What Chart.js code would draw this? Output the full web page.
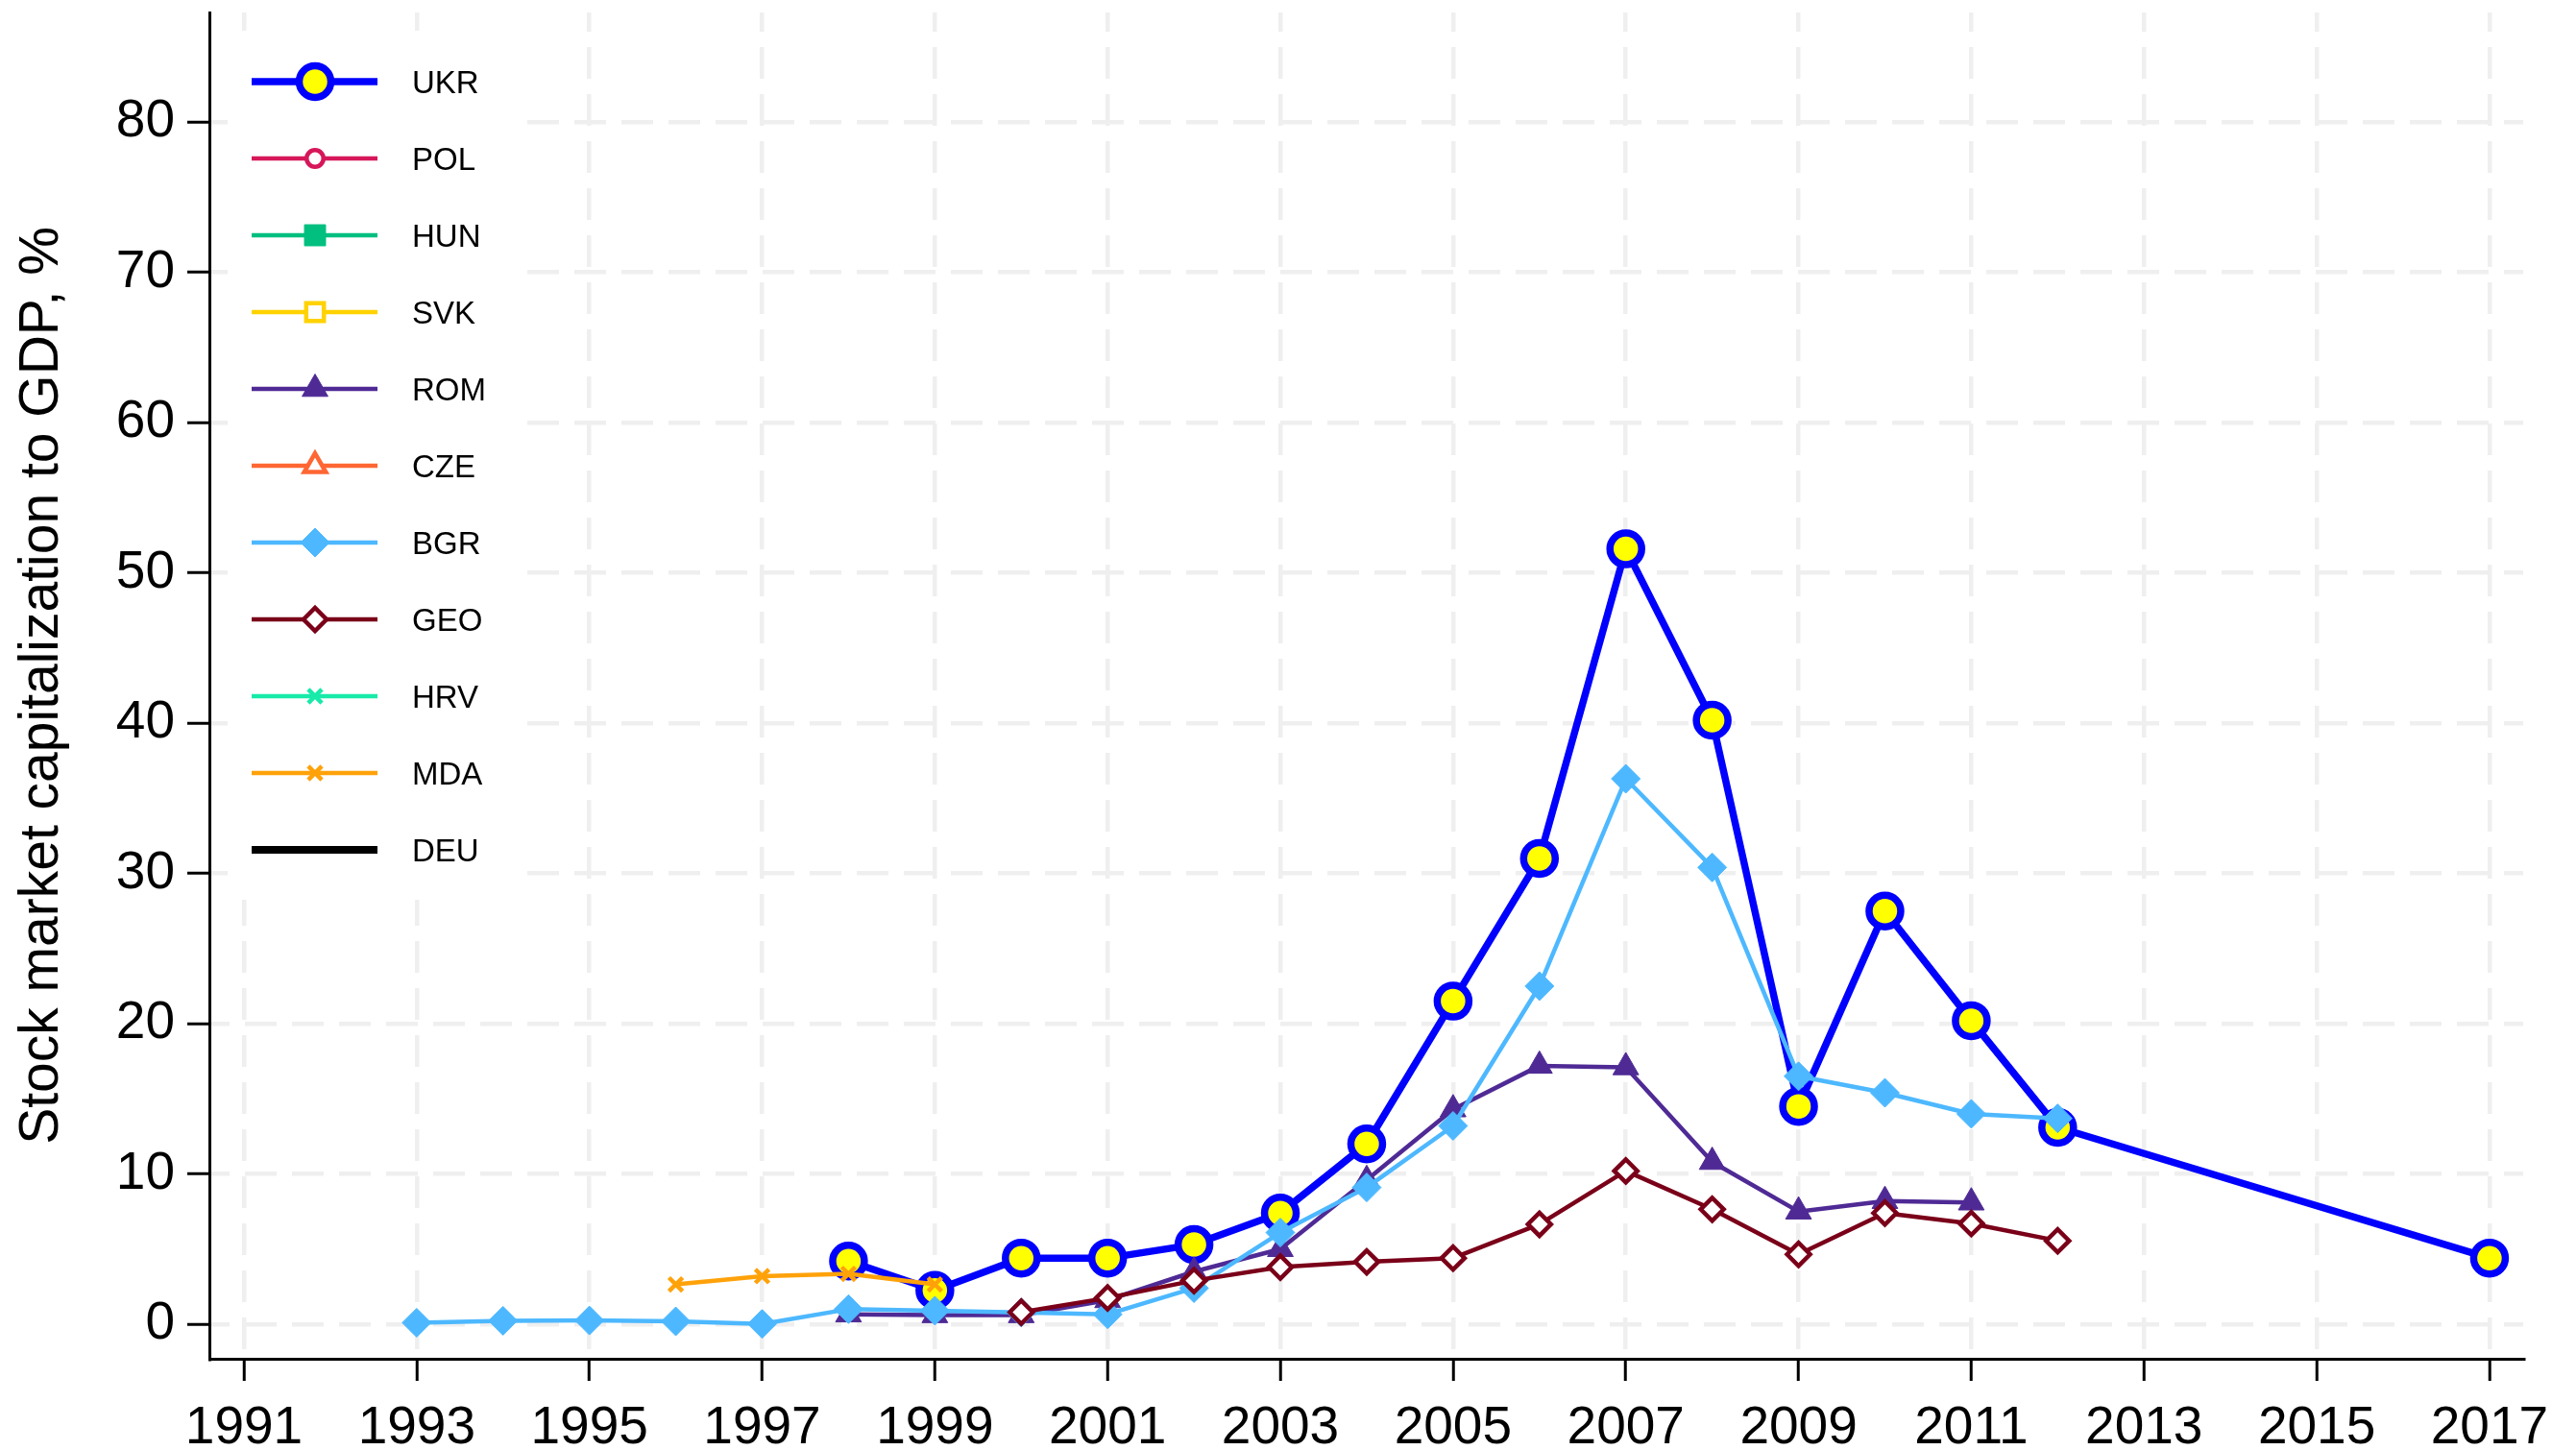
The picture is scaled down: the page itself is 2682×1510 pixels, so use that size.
<!DOCTYPE html>
<html>
<head>
<meta charset="utf-8">
<script src="https://cdn.jsdelivr.net/npm/chart.js@4.4.1/dist/chart.umd.min.js"></script>
<style>
html,body{margin:0;padding:0;background:#ffffff;}
canvas{display:block;}
</style>
</head>
<body>
<canvas id="c" width="2682" height="1510"></canvas>
<script>
// ---------- DATA ----------
const seriesNames = ['UKR','POL','HUN','SVK','ROM','CZE','BGR','GEO','HRV','MDA','DEU'];

const ukrYears  = [1998,1999,2000,2001,2002,2003,2004,2005,2006,2007,2008,2009,2010,2011,2012,2017];
const ukrValues = [4.2,2.25,4.4,4.4,5.3,7.4,12.0,21.5,31.0,51.6,40.2,14.5,27.5,20.2,13.1,4.4];

const polYears = [];  const polValues = [];
const hunYears = [];  const hunValues = [];
const svkYears = [];  const svkValues = [];

const romYears  = [1998,1999,2000,2001,2002,2003,2004,2005,2006,2007,2008,2009,2010,2011];
const romValues = [0.65,0.6,0.6,1.6,3.5,5.0,9.6,14.3,17.2,17.1,10.8,7.5,8.2,8.1];

const czeYears = [];  const czeValues = [];

const bgrYears  = [1993,1994,1995,1996,1997,1998,1999,2000,2001,2002,2003,2004,2005,2006,2007,2008,2009,2010,2011,2012];
const bgrValues = [0.1,0.23,0.25,0.19,0.02,1.0,0.9,0.78,0.66,2.4,6.1,9.1,13.2,22.5,36.3,30.4,16.5,15.4,14.0,13.7];

const geoYears  = [2000,2001,2002,2003,2004,2005,2006,2007,2008,2009,2010,2011,2012];
const geoValues = [0.8,1.75,2.9,3.8,4.15,4.4,6.65,10.2,7.65,4.65,7.4,6.7,5.55];

const hrvYears = [];  const hrvValues = [];

const mdaYears  = [1996,1997,1998,1999];
const mdaValues = [2.65,3.2,3.35,2.65];

const deuYears = [];  const deuValues = [];

const xTickYears  = [1991,1993,1995,1997,1999,2001,2003,2005,2007,2009,2011,2013,2015,2017];
const yTickValues = [0,10,20,30,40,50,60,70,80];
const yAxisTitle  = 'Stock market capitalization to GDP, %';

// ---------- STYLES ----------
const FONT = '"Liberation Sans", Arial, Helvetica, sans-serif';
const styles = {
  UKR: {line:'#0000ff', lw:7.5, ps:'circle',   r:16.5, bw:7.5, bg:'#ffff00', bc:'#0000ff'},
  POL: {line:'#d6175a', lw:4.5, ps:'circle',   r:8.75, bw:4.5, bg:'#ffffff', bc:'#d6175a'},
  HUN: {line:'#00bf7f', lw:4.5, ps:'rect',     r:15.5, bw:1,   bg:'#00bf7f', bc:'#00bf7f'},
  SVK: {line:'#ffd200', lw:4.5, ps:'rect',     r:13,   bw:4.5, bg:'#ffffff', bc:'#ffd200'},
  ROM: {line:'#4f2a95', lw:4.5, ps:'triangle', r:15.5, bw:1,   bg:'#4f2a95', bc:'#4f2a95'},
  CZE: {line:'#ff6633', lw:4.5, ps:'triangle', r:13,   bw:4.5, bg:'#ffffff', bc:'#ff6633'},
  BGR: {line:'#4db8ff', lw:4.5, ps:'rectRot',  r:15,   bw:1,   bg:'#4db8ff', bc:'#4db8ff'},
  GEO: {line:'#7a0019', lw:4.5, ps:'rectRot',  r:12,   bw:4.5, bg:'#ffffff', bc:'#7a0019'},
  HRV: {line:'#17eaa9', lw:4.5, ps:'crossRot', r:10,   bw:4.5, bg:'rgba(0,0,0,0)', bc:'#17eaa9'},
  MDA: {line:'#ffa20a', lw:4.5, ps:'crossRot', r:10,   bw:4.5, bg:'rgba(0,0,0,0)', bc:'#ffa20a'},
  DEU: {line:'#000000', lw:8,   ps:'circle',   r:0,    bw:0,   bg:'#000000', bc:'#000000'}
};

const seriesData = {
  UKR:[ukrYears,ukrValues], POL:[polYears,polValues], HUN:[hunYears,hunValues],
  SVK:[svkYears,svkValues], ROM:[romYears,romValues], CZE:[czeYears,czeValues],
  BGR:[bgrYears,bgrValues], GEO:[geoYears,geoValues], HRV:[hrvYears,hrvValues],
  MDA:[mdaYears,mdaValues], DEU:[deuYears,deuValues]
};

const N = seriesNames.length;
const datasets = seriesNames.map((name, i) => {
  const s = styles[name];
  const [yrs, vals] = seriesData[name];
  return {
    label: name,
    data: yrs.map((yr, k) => ({x: yr, y: vals[k]})),
    borderColor: s.line,
    borderWidth: s.lw,
    borderJoinStyle: 'round',
    borderCapStyle: 'round',
    tension: 0,
    fill: false,
    pointStyle: s.ps,
    pointRadius: s.r,
    pointHoverRadius: s.r,
    pointBorderWidth: s.bw,
    pointHoverBorderWidth: s.bw,
    pointBackgroundColor: s.bg,
    pointBorderColor: s.bc,
    order: N - i
  };
});

// ---------- marker drawing (same geometry as Chart.js) ----------
function drawMarker(ctx, s, x, y) {
  if (!s.r) return;
  const r = s.r;
  ctx.save();
  ctx.fillStyle = s.bg;
  ctx.strokeStyle = s.bc;
  ctx.lineWidth = s.bw;
  ctx.beginPath();
  if (s.ps === 'circle') {
    ctx.arc(x, y, r, 0, Math.PI * 2);
    ctx.closePath();
  } else if (s.ps === 'rect') {
    const h = Math.SQRT1_2 * r;
    ctx.rect(x - h, y - h, 2 * h, 2 * h);
  } else if (s.ps === 'triangle') {
    let a = 0;
    ctx.moveTo(x + Math.sin(a) * r, y - Math.cos(a) * r);
    a += 2 * Math.PI / 3;
    ctx.lineTo(x + Math.sin(a) * r, y - Math.cos(a) * r);
    a += 2 * Math.PI / 3;
    ctx.lineTo(x + Math.sin(a) * r, y - Math.cos(a) * r);
    ctx.closePath();
  } else if (s.ps === 'rectRot') {
    ctx.moveTo(x - r, y); ctx.lineTo(x, y - r); ctx.lineTo(x + r, y); ctx.lineTo(x, y + r);
    ctx.closePath();
  } else if (s.ps === 'crossRot') {
    const o = Math.cos(Math.PI / 4) * r;
    ctx.moveTo(x - o, y - o); ctx.lineTo(x + o, y + o);
    ctx.moveTo(x + o, y - o); ctx.lineTo(x - o, y + o);
  }
  if (s.ps !== 'crossRot') ctx.fill();
  if (s.bw > 0) ctx.stroke();
  ctx.restore();
}

// ---------- Stata-like legend inside plot ----------
const legendPlugin = {
  id: 'stataLegend',
  afterDatasetsDraw(chart) {
    const ctx = chart.ctx;
    const ca = chart.chartArea;
    const boxL = ca.left + 19, boxT = ca.top + 19;
    const boxW = 298, boxH = 905;
    ctx.save();
    ctx.fillStyle = '#ffffff';
    ctx.fillRect(boxL, boxT, boxW, boxH);
    seriesNames.forEach((name, i) => {
      const s = styles[name];
      const y = boxT + 53 + i * 80;
      ctx.strokeStyle = s.line;
      ctx.lineWidth = s.lw;
      ctx.lineCap = 'butt';
      ctx.beginPath();
      ctx.moveTo(boxL + 25, y);
      ctx.lineTo(boxL + 156, y);
      ctx.stroke();
      drawMarker(ctx, s, boxL + 91, y);
      ctx.fillStyle = '#000000';
      ctx.font = '33px ' + FONT;
      ctx.textBaseline = 'alphabetic';
      ctx.textAlign = 'left';
      ctx.fillText(name, boxL + 192, y + 12);
    });
    ctx.restore();
  }
};

Chart.defaults.font.family = FONT;
Chart.defaults.color = '#000000';

const gridCommon = {
  color: '#efefef',
  lineWidth: 4.5,
  drawOnChartArea: true,
  drawTicks: true,
  tickLength: 23,
  tickColor: '#000000',
  tickWidth: 3
};

new Chart(document.getElementById('c'), {
  type: 'line',
  data: { datasets },
  options: {
    responsive: false,
    animation: false,
    devicePixelRatio: 1,
    events: [],
    layout: { autoPadding: false, padding: { top: 13, right: 55, left: 0, bottom: 0 } },
    plugins: { legend: { display: false }, tooltip: { enabled: false } },
    scales: {
      x: {
        type: 'linear',
        min: 1990.6,
        max: 2017.39,
        afterBuildTicks: s => { s.ticks = xTickYears.map(v => ({ value: v })); },
        afterFit: s => { s.height = 95; s.paddingLeft = 0; s.paddingRight = 0; },
        ticks: {
          callback: v => String(v),
          font: { size: 55, family: FONT },
          color: '#000000',
          padding: 17,
          maxRotation: 0,
          minRotation: 0,
          autoSkip: false
        },
        grid: gridCommon,
        border: { display: true, color: '#000000', width: 3, dash: [33, 16], dashOffset: 13 }
      },
      y: {
        type: 'linear',
        min: -2.3,
        max: 87.3,
        afterBuildTicks: s => { s.ticks = yTickValues.map(v => ({ value: v })); },
        afterFit: s => { s.width = 218; s.paddingTop = 0; s.paddingBottom = 0; },
        ticks: {
          callback: v => String(v),
          font: { size: 55, family: FONT },
          color: '#000000',
          padding: 13
        },
        grid: gridCommon,
        border: { display: true, color: '#000000', width: 3, dash: [33, 16], dashOffset: 14 },
        title: {
          display: true,
          text: yAxisTitle,
          color: '#000000',
          font: { size: 57, family: FONT },
          padding: { top: 10, bottom: 0 }
        }
      }
    }
  },
  plugins: [legendPlugin]
});
</script>
</body>
</html>
